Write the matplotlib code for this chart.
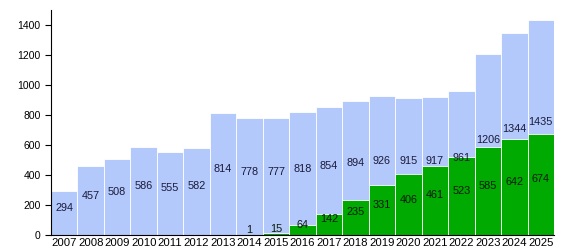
import matplotlib
matplotlib.use('Agg')
import matplotlib.pyplot as plt
import numpy as np

plt.rcParams['font.family'] = ['Liberation Sans', 'DejaVu Sans']

years = [str(y) for y in range(2007, 2026)]
totals = [294, 457, 508, 586, 555, 582, 814, 778, 777, 818, 854, 894, 926, 915, 917, 961, 1206, 1344, 1435]
green = [0, 0, 0, 0, 0, 0, 0, 1, 15, 64, 142, 235, 331, 406, 461, 523, 585, 642, 674]

blue_color = '#b3c8fb'
green_color = '#00aa00'

fig = plt.figure(figsize=(5.84, 2.5), dpi=100)
ax = fig.add_axes([0.0873, 0.06, 0.8613, 0.90])

x = np.arange(len(years))
ax.bar(x, totals, width=1.0, color=blue_color, edgecolor='white', linewidth=0.6)
ax.bar(x, green, width=1.0, color=green_color, edgecolor='white', linewidth=0.6)

for i, (t, g) in enumerate(zip(totals, green)):
    ax.text(i, t / 2, str(t), ha='center', va='bottom', fontsize=7.8, color='#1a1a3a')
    if g > 0:
        ax.text(i, g / 2, str(g), ha='center', va='bottom', fontsize=7.8, color='#0a1a0a')

ax.set_xlim(-0.5, len(years) - 0.5)
ax.set_ylim(0, 1500)
ax.set_yticks(range(0, 1401, 200))
ax.set_xticks(x)
ax.set_xticklabels(years)
ax.tick_params(axis='x', length=0, pad=2, labelsize=8.2)
ax.tick_params(axis='y', length=4, labelsize=7.5, direction='out')
ax.spines['top'].set_visible(False)
ax.spines['right'].set_visible(False)

fig.savefig('out.png', dpi=100)
